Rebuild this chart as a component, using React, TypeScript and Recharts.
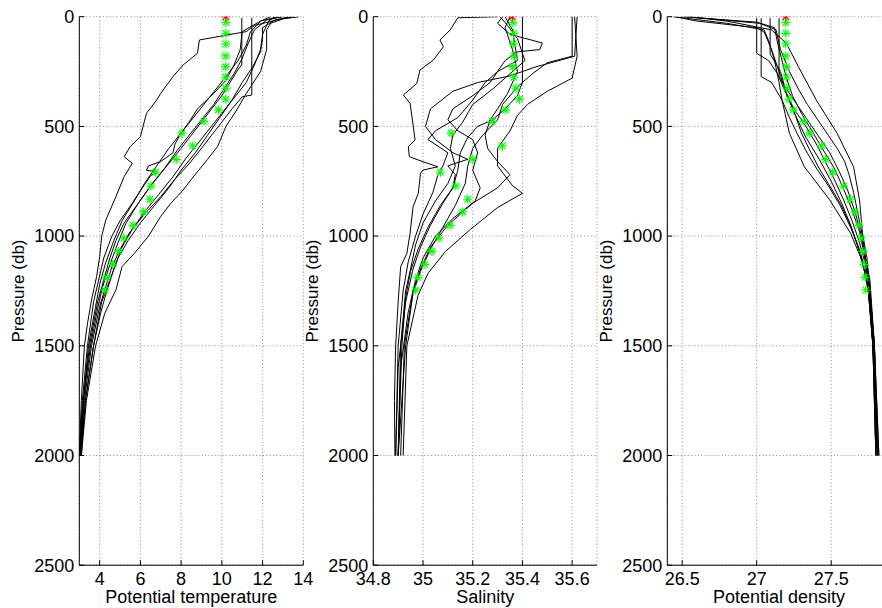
import React from 'react';
import { ScatterChart, Scatter, XAxis, YAxis, CartesianGrid, Label } from 'recharts';

const pressureTicks = [0, 500, 1000, 1500, 2000, 2500];
const tempTicks = [4, 6, 8, 10, 12, 14];
const salTicks = [34.8, 35, 35.2, 35.4, 35.6];
const densTicks = [26.5, 27, 27.5];

// sampled points of the highlighted profile (green), surface point in red
const markerPressures = [27, 76, 124, 179, 228, 276, 326, 376, 425, 477, 531, 589, 650, 709, 772, 832, 890, 951, 1009, 1070, 1129, 1188, 1246];
const markerTemp = [10.2, 10.2, 10.2, 10.2, 10.19, 10.19, 10.2, 10.19, 9.83, 9.12, 8.04, 8.57, 7.76, 6.75, 6.52, 6.47, 6.16, 5.64, 5.19, 4.93, 4.64, 4.36, 4.26];
const markerSal = [35.362, 35.365, 35.363, 35.367, 35.361, 35.366, 35.374, 35.388, 35.333, 35.279, 35.113, 35.319, 35.201, 35.07, 35.132, 35.18, 35.16, 35.109, 35.064, 35.036, 35.008, 34.979, 34.971];
const markerDens = [27.195, 27.195, 27.195, 27.195, 27.199, 27.199, 27.203, 27.217, 27.246, 27.317, 27.356, 27.436, 27.463, 27.51, 27.584, 27.628, 27.66, 27.686, 27.7, 27.713, 27.722, 27.728, 27.733];
const surfaceTemp = 10.2;
const surfaceSal = 35.359;
const surfaceDens = 27.195;

// profiles as [pressure, value]
const tempA = [[0, 13.3], [12, 12.8], [40, 11.6], [68, 11.2], [106, 8.9], [167, 8.8], [220, 8.1], [273, 7.6], [349, 7.0], [380, 6.8], [440, 6.3], [547, 6.0], [592, 5.5], [638, 5.2], [668, 5.6], [729, 5.2], [820, 4.8], [927, 4.3], [1000, 4.1], [1094, 4.0], [1185, 3.85], [1291, 3.6], [1400, 3.4], [1500, 3.25], [1750, 3.1], [2000, 3.0]];
const tempB = [[0, 12.4], [20, 11.9], [68, 11.0], [150, 10.9], [220, 10.6], [290, 10.2], [350, 9.6], [420, 8.8], [480, 8.4], [530, 8.0], [580, 7.7], [620, 7.6], [640, 7.3], [660, 7.0], [680, 6.4], [700, 6.3], [706, 6.8], [725, 6.5], [780, 6.1], [850, 5.6], [930, 5.0], [1000, 4.6], [1100, 4.2], [1200, 3.95], [1300, 3.7], [1500, 3.4], [1750, 3.15], [2000, 3.0]];
const tempC = [[5, 10.98], [220, 10.98], [240, 10.8], [300, 10.4], [360, 10.0], [420, 9.5], [480, 9.0], [540, 8.5], [600, 8.0], [680, 7.3], [760, 6.6], [850, 5.9], [940, 5.2], [1020, 4.8], [1100, 4.5], [1200, 4.2], [1300, 3.9], [1500, 3.5], [1750, 3.2], [2000, 3.05]];
const tempD = [[5, 11.47], [357, 11.47], [365, 11.0], [420, 10.5], [480, 10.0], [540, 9.5], [600, 9.0], [670, 8.4], [740, 7.7], [820, 7.0], [900, 6.2], [980, 5.5], [1060, 5.0], [1140, 4.6], [1230, 4.3], [1320, 4.0], [1500, 3.6], [1750, 3.25], [2000, 3.05]];
const tempE = [[0, 13.8], [10, 13.0], [30, 12.4], [60, 12.2], [150, 12.2], [250, 11.9], [350, 11.2], [430, 10.7], [500, 10.2], [590, 9.8], [650, 9.3], [730, 8.6], [790, 8.1], [850, 7.5], [910, 7.0], [1000, 6.4], [1079, 5.7], [1139, 5.1], [1245, 4.8], [1352, 4.25], [1500, 3.8], [1750, 3.35], [2000, 3.1]];
const tempF = [[0, 13.5], [15, 12.6], [50, 12.0], [100, 12.0], [160, 11.9], [230, 11.5], [300, 11.0], [380, 10.5], [460, 9.9], [540, 9.3], [620, 8.7], [700, 8.0], [780, 7.4], [860, 6.7], [940, 6.0], [1020, 5.4], [1100, 4.9], [1200, 4.5], [1300, 4.1], [1500, 3.7], [1750, 3.3], [2000, 3.05]];
const tempG = [[0, 12.8], [20, 11.9], [70, 11.4], [130, 11.2], [200, 10.8], [260, 10.3], [320, 9.8], [390, 9.2], [460, 8.6], [530, 8.0], [600, 7.4], [680, 6.8], [760, 6.2], [840, 5.7], [930, 5.1], [1020, 4.7], [1120, 4.3], [1220, 4.0], [1320, 3.8], [1500, 3.45], [1750, 3.2], [2000, 3.0]];
const tempH = [[0, 13.0], [15, 12.2], [60, 11.6], [120, 11.3], [190, 11.0], [260, 10.6], [330, 10.1], [400, 9.6], [470, 9.0], [540, 8.4], [610, 7.8], [690, 7.2], [770, 6.5], [850, 5.9], [940, 5.3], [1030, 4.9], [1130, 4.5], [1230, 4.15], [1330, 3.9], [1500, 3.55], [1750, 3.2], [2000, 3.05]];
const tempI = [[0, 12.6], [20, 12.3], [80, 12.0], [150, 11.9], [220, 11.6], [300, 11.2], [370, 10.6], [440, 10.0], [510, 9.4], [580, 8.8], [650, 8.2], [730, 7.6], [810, 6.9], [890, 6.2], [970, 5.6], [1050, 5.1], [1150, 4.7], [1250, 4.35], [1350, 4.05], [1500, 3.7], [1750, 3.3], [2000, 3.1]];

const salA = [[0, 35.3], [5, 35.14], [61, 35.109], [106, 35.068], [137, 35.082], [197, 35.042], [243, 34.988], [304, 34.975], [357, 34.921], [395, 34.948], [501, 34.961], [562, 34.968], [592, 34.941], [638, 34.945], [661, 35.0], [684, 35.06], [699, 35.0], [714, 34.99], [805, 34.981], [866, 34.96], [987, 34.948], [1079, 34.935], [1139, 34.91], [1300, 34.9], [1500, 34.89], [1750, 34.885], [2000, 34.887]];
const salB = [[0, 35.62], [180, 35.61], [230, 35.45], [270, 35.35], [300, 35.22], [340, 35.12], [420, 35.03], [500, 35.01], [560, 35.05], [620, 35.12], [650, 35.18], [680, 35.1], [720, 35.13], [780, 35.12], [850, 35.08], [950, 35.03], [1050, 34.99], [1150, 34.96], [1300, 34.93], [1600, 34.9], [2000, 34.89]];
const salC = [[0, 35.6], [180, 35.6], [210, 35.5], [260, 35.44], [320, 35.38], [400, 35.32], [470, 35.3], [540, 35.24], [600, 35.2], [680, 35.18], [760, 35.17], [860, 35.13], [960, 35.08], [1060, 35.03], [1160, 34.99], [1260, 34.96], [1500, 34.93], [2000, 34.9]];
const salD = [[0, 35.61], [180, 35.62], [280, 35.6], [340, 35.5], [400, 35.42], [450, 35.38], [520, 35.35], [600, 35.3], [680, 35.3], [770, 35.36], [805, 35.4], [870, 35.3], [970, 35.19], [1070, 35.09], [1170, 35.02], [1270, 34.98], [1500, 34.935], [2000, 34.92]];
const salE = [[0, 35.4], [50, 35.4], [150, 35.4], [300, 35.4], [360, 35.38], [420, 35.33], [470, 35.28], [500, 35.22], [550, 35.18], [620, 35.15], [700, 35.14], [780, 35.12], [860, 35.07], [960, 35.02], [1060, 34.98], [1160, 34.95], [1280, 34.93], [1500, 34.915], [2000, 34.9]];
const salF = [[0, 35.32], [30, 35.3], [80, 35.35], [120, 35.48], [150, 35.47], [160, 35.38], [200, 35.33], [250, 35.3], [300, 35.27], [360, 35.2], [420, 35.12], [470, 35.1], [520, 35.14], [560, 35.2], [620, 35.22], [700, 35.2], [780, 35.23], [840, 35.21], [920, 35.12], [1000, 35.05], [1100, 35.0], [1200, 34.97], [1350, 34.94], [1600, 34.91], [2000, 34.9]];
const salG = [[0, 35.31], [40, 35.34], [100, 35.38], [200, 35.41], [260, 35.35], [330, 35.28], [400, 35.2], [480, 35.16], [540, 35.12], [600, 35.11], [680, 35.13], [760, 35.1], [840, 35.05], [940, 35.0], [1040, 34.97], [1150, 34.95], [1250, 34.93], [1500, 34.91], [2000, 34.9]];
const salH = [[0, 35.33], [60, 35.36], [200, 35.38], [250, 35.3], [300, 35.25], [380, 35.2], [460, 35.14], [520, 35.05], [560, 35.02], [620, 35.1], [680, 35.08], [720, 35.06], [800, 35.04], [900, 35.0], [1000, 34.97], [1120, 34.94], [1250, 34.92], [1500, 34.9], [2000, 34.89]];
const salI = [[0, 35.35], [50, 35.33], [150, 35.36], [250, 35.38], [350, 35.34], [420, 35.3], [470, 35.27], [540, 35.25], [600, 35.26], [660, 35.3], [720, 35.35], [780, 35.3], [850, 35.2], [950, 35.1], [1050, 35.03], [1150, 34.99], [1250, 34.96], [1500, 34.925], [2000, 34.91]];

const densA = [[0, 26.45], [20, 26.6], [50, 27.0], [70, 27.05], [150, 27.1], [250, 27.15], [350, 27.2], [450, 27.26], [550, 27.33], [650, 27.42], [750, 27.5], [850, 27.57], [950, 27.63], [1050, 27.68], [1150, 27.72], [1250, 27.75], [1500, 27.78], [1750, 27.8], [2000, 27.81]];
const densB = [[7, 27.03], [273, 27.03], [300, 27.1], [380, 27.17], [460, 27.22], [530, 27.27], [610, 27.33], [690, 27.4], [770, 27.48], [860, 27.56], [960, 27.63], [1060, 27.69], [1160, 27.73], [1260, 27.75], [1500, 27.78], [2000, 27.8]];
const densC = [[7, 27.0], [167, 27.0], [200, 27.08], [260, 27.14], [340, 27.19], [420, 27.25], [500, 27.33], [580, 27.4], [660, 27.46], [740, 27.52], [830, 27.58], [930, 27.64], [1030, 27.69], [1130, 27.73], [1250, 27.76], [1500, 27.79], [2000, 27.81]];
const densD = [[7, 27.15], [273, 27.15], [330, 27.2], [400, 27.27], [470, 27.34], [540, 27.41], [620, 27.49], [700, 27.55], [790, 27.61], [890, 27.66], [990, 27.7], [1100, 27.73], [1200, 27.76], [1500, 27.79], [2000, 27.82]];
const densE = [[0, 26.55], [20, 26.8], [60, 27.1], [122, 27.2], [228, 27.28], [380, 27.4], [532, 27.54], [684, 27.65], [835, 27.69], [987, 27.71], [1100, 27.74], [1250, 27.76], [1500, 27.79], [2000, 27.81]];
const densF = [[0, 26.44], [30, 26.8], [60, 27.05], [110, 27.08], [200, 27.12], [300, 27.15], [380, 27.17], [532, 27.22], [684, 27.32], [835, 27.49], [987, 27.63], [1100, 27.7], [1200, 27.74], [1300, 27.76], [1500, 27.78], [2000, 27.8]];
const densG = [[7, 27.09], [170, 27.09], [250, 27.16], [350, 27.2], [450, 27.26], [530, 27.3], [600, 27.35], [680, 27.41], [760, 27.48], [850, 27.56], [950, 27.63], [1050, 27.68], [1150, 27.72], [1250, 27.75], [1500, 27.78], [2000, 27.8]];
const densH = [[0, 26.5], [25, 27.0], [50, 27.12], [120, 27.14], [200, 27.17], [280, 27.2], [360, 27.24], [440, 27.3], [520, 27.37], [600, 27.44], [690, 27.52], [780, 27.58], [880, 27.64], [980, 27.69], [1080, 27.72], [1200, 27.75], [1500, 27.78], [2000, 27.81]];
const densI = [[0, 26.52], [30, 27.02], [60, 27.13], [150, 27.16], [250, 27.22], [330, 27.28], [400, 27.34], [470, 27.41], [540, 27.48], [600, 27.54], [660, 27.59], [720, 27.62], [800, 27.65], [900, 27.68], [1000, 27.71], [1100, 27.73], [1250, 27.76], [1500, 27.79], [2000, 27.82]];

const FONT = '"Liberation Sans", Arial, Helvetica, sans-serif';
const PLOT_TOP = 16.7;
const AXIS_H = 42.8;
const H = 608;

const rows = (pts: number[][]) => pts.map(([p, v]) => ({ p, v }));

function Asterisk({ cx, cy, color }: { cx?: number; cy?: number; color: string }) {
  if (cx == null || cy == null) return <g />;
  const r = 4.5;
  const d = r * 0.72;
  return (
    <g stroke={color} strokeWidth={1.2}>
      <line x1={cx - r} y1={cy} x2={cx + r} y2={cy} />
      <line x1={cx} y1={cy - r} x2={cx} y2={cy + r} />
      <line x1={cx - d} y1={cy - d} x2={cx + d} y2={cy + d} />
      <line x1={cx - d} y1={cy + d} x2={cx + d} y2={cy - d} />
    </g>
  );
}

const XTick = (props: any) => {
  const { x, y, payload } = props;
  return (
    <g>
      <line x1={x} y1={y} x2={x} y2={y - 5} stroke="#000" />
      <text x={x} y={y + 20} textAnchor="middle" fontSize={18} fontFamily={FONT} fill="#000">
        {String(payload.value)}
      </text>
    </g>
  );
};

const YTick = (props: any) => {
  const { x, y, payload } = props;
  return (
    <g>
      <line x1={x} y1={y} x2={x + 5} y2={y} stroke="#000" />
      <text x={x - 5} y={y} dy="0.35em" textAnchor="end" fontSize={18} fontFamily={FONT} fill="#000">
        {String(payload.value)}
      </text>
    </g>
  );
};

type PanelProps = {
  left: number;
  width: number;
  yAxisWidth: number;
  rightMargin: number;
  domain: [number, number];
  ticks: number[];
  profiles: number[][][];
  markerValues: number[];
  surfaceValue: number;
  xLabel: string;
};

function Panel({ left, width, yAxisWidth, rightMargin, domain, ticks, profiles, markerValues, surfaceValue, xLabel }: PanelProps) {
  const plotW = width - yAxisWidth - rightMargin;
  const markerRows = markerPressures.map((p, i) => ({ p, v: markerValues[i] }));
  return (
    <div style={{ position: 'absolute', left, top: 0 }}>
      <ScatterChart width={width} height={H} margin={{ top: PLOT_TOP, right: rightMargin, bottom: 0, left: 0 }}>
        <CartesianGrid stroke="#888" strokeDasharray="1 2.4" />
        <XAxis
          type="number"
          dataKey="v"
          domain={domain}
          ticks={ticks}
          interval={0}
          allowDataOverflow
          height={AXIS_H}
          tickSize={0}
          tickMargin={0}
          tickLine={false}
          axisLine={{ stroke: '#000' }}
          tick={XTick}
        >
          <Label
            content={() => (
              <text x={yAxisWidth + plotW / 2} y={603} textAnchor="middle" fontSize={18} fontFamily={FONT} fill="#000">
                {xLabel}
              </text>
            )}
          />
        </XAxis>
        <YAxis
          type="number"
          dataKey="p"
          domain={[0, 2500]}
          reversed
          ticks={pressureTicks}
          interval={0}
          allowDataOverflow
          width={yAxisWidth}
          tickSize={0}
          tickMargin={0}
          tickLine={false}
          axisLine={{ stroke: '#000' }}
          tick={YTick}
        >
          <Label
            content={() => (
              <text
                x={yAxisWidth - 55}
                y={291}
                transform={`rotate(-90 ${yAxisWidth - 55} 291)`}
                textAnchor="middle"
                fontSize={17}
                fontFamily={FONT}
                fill="#000"
              >
                Pressure (db)
              </text>
            )}
          />
        </YAxis>
        {profiles.map((pts, i) => (
          <Scatter
            key={i}
            data={rows(pts)}
            line={{ stroke: '#000', strokeWidth: 1 }}
            lineType="joint"
            shape={() => <g />}
            isAnimationActive={false}
          />
        ))}
        <Scatter
          data={markerRows}
          shape={(p: any) => <Asterisk cx={p.cx} cy={p.cy} color="#00ff00" />}
          isAnimationActive={false}
        />
        <Scatter
          data={[{ p: 0, v: surfaceValue }]}
          shape={(p: any) => <Asterisk cx={p.cx} cy={p.cy} color="#ff0000" />}
          isAnimationActive={false}
        />
      </ScatterChart>
    </div>
  );
}

export default function App() {
  return (
    <div style={{ position: 'absolute', left: 0, top: 0, width: 882, height: 608, overflow: 'hidden', background: '#fff' }}>
      <Panel
        left={0}
        width={320}
        yAxisWidth={79.3}
        rightMargin={16.7}
        domain={[3, 14]}
        ticks={tempTicks}
        profiles={[tempA, tempB, tempC, tempD, tempE, tempF, tempG, tempH, tempI]}
        markerValues={markerTemp}
        surfaceValue={surfaceTemp}
        xLabel="Potential temperature"
      />
      <Panel
        left={300}
        width={315}
        yAxisWidth={73.3}
        rightMargin={18}
        domain={[34.8, 35.7]}
        ticks={salTicks}
        profiles={[salA, salB, salC, salD, salE, salF, salG, salH, salI]}
        markerValues={markerSal}
        surfaceValue={surfaceSal}
        xLabel="Salinity"
      />
      <Panel
        left={595}
        width={300}
        yAxisWidth={72.3}
        rightMargin={4.2}
        domain={[26.4, 27.9]}
        ticks={densTicks}
        profiles={[densA, densB, densC, densD, densE, densF, densG, densH, densI]}
        markerValues={markerDens}
        surfaceValue={surfaceDens}
        xLabel="Potential density"
      />
    </div>
  );
}
